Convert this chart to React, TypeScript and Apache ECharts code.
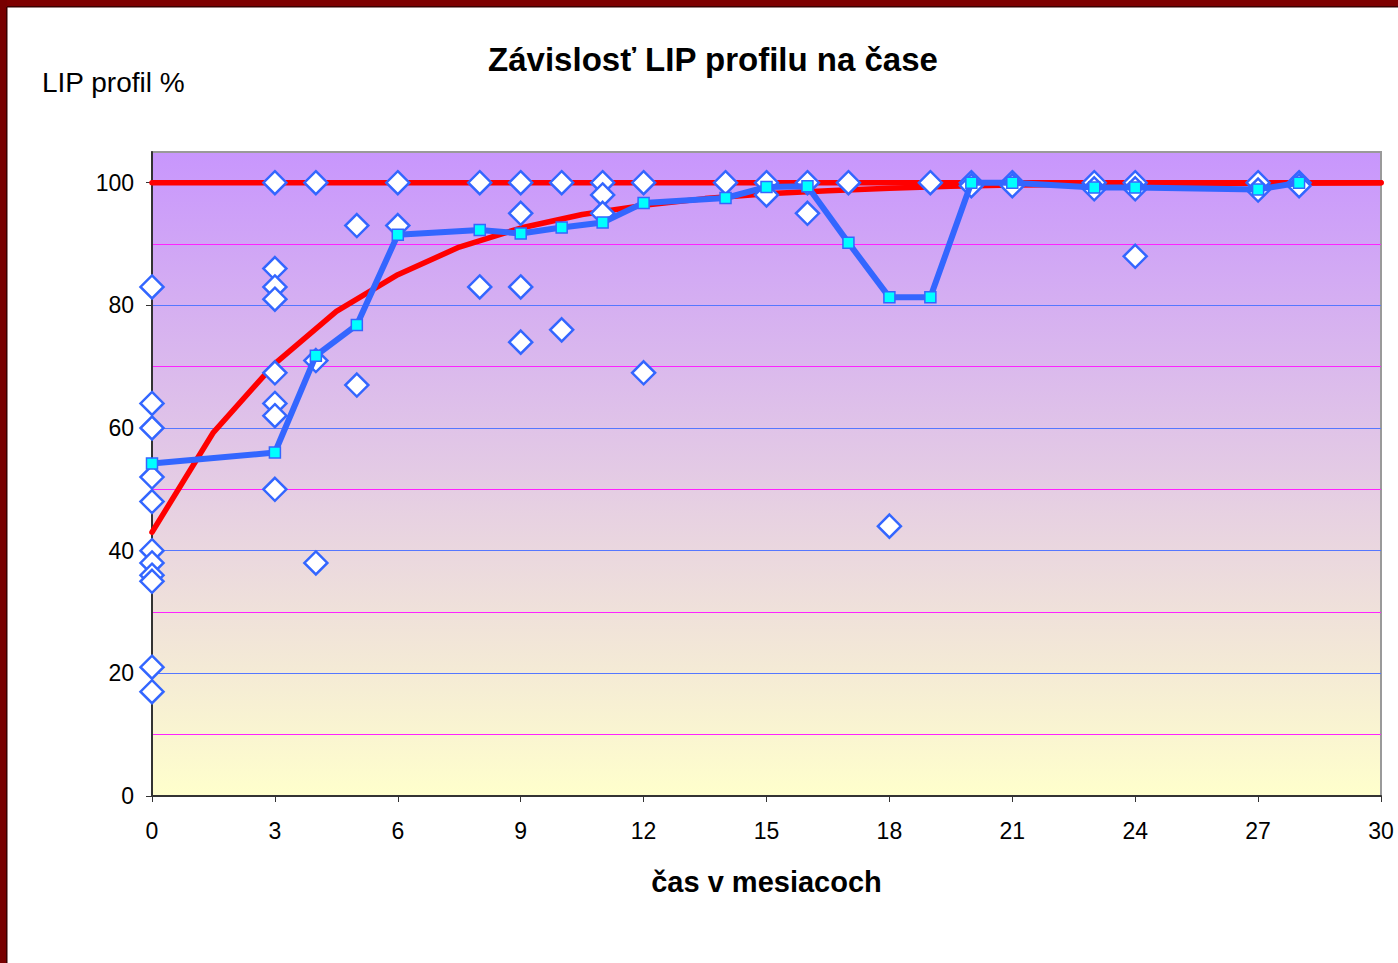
import React, { useEffect, useRef } from "react";
import * as echarts from "echarts";

const TITLE = "Závislosť LIP profilu na čase";
const Y_NAME = "LIP profil %";
const X_NAME = "čas v mesiacoch";

const X_TICKS = [0, 3, 6, 9, 12, 15, 18, 21, 24, 27, 30];
const Y_TICKS = [0, 20, 40, 60, 80, 100];

// individual measurements (diamonds)
const DOT_MONTHS = [0, 3, 4, 5, 6, 8, 9, 10, 11, 12, 14, 15, 16, 17, 18, 19, 20, 21, 23, 24, 27, 28];
const DOT_VALUES: number[][] = [
  [83, 64, 60, 52, 48, 40, 38, 36, 35, 21, 17],
  [100, 86, 83, 81, 69, 64, 62, 50],
  [100, 71, 38],
  [93, 67],
  [100, 93],
  [100, 83],
  [100, 95, 83, 74],
  [100, 76],
  [100, 98, 95],
  [100, 69],
  [100],
  [100, 98],
  [100, 95],
  [100],
  [44],
  [100],
  [100, 99.5],
  [100, 99.5],
  [100, 99],
  [100, 99, 88],
  [100, 98.8],
  [100, 99.5],
];

// mean values (blue line, cyan squares)
const MEAN_MONTHS = [0, 3, 4, 5, 6, 8, 9, 10, 11, 12, 14, 15, 16, 17, 18, 19, 20, 21, 23, 24, 27, 28];
const MEAN_VALUES = [54.2, 56, 71.8, 76.8, 91.5, 92.3, 91.7, 92.7, 93.5, 96.7, 97.5, 99.3, 99.4, 90.2, 81.3, 81.3, 100, 100, 99.2, 99.2, 98.9, 100];

// fitted curve (red)
const FIT_X = [0, 1.5, 3, 4.5, 6, 7.5, 9, 10.5, 12, 13.5, 15, 16.5, 18, 19.5, 21, 22.5, 24, 25.5, 27, 28.5, 30];
const FIT_Y = [43, 59.3, 70.5, 79, 85, 89.5, 92.6, 94.8, 96.3, 97.4, 98.2, 98.7, 99.1, 99.4, 99.6, 99.7, 99.8, 99.85, 99.9, 99.95, 100];

// reference level 100 %
const REF_X = [0, 30];
const REF_Y = [100, 100];

const FONT = "Liberation Sans, Arial, Helvetica, sans-serif";

export default function App() {
  const ref = useRef<HTMLDivElement>(null);

  useEffect(() => {
    if (!ref.current) return;
    const chart = echarts.init(ref.current, undefined, { renderer: "svg" });

    const dots: number[][] = [];
    DOT_MONTHS.forEach((m, i) => {
      DOT_VALUES[i].forEach((v) => dots.push([m, v]));
    });
    const means = MEAN_MONTHS.map((m, i) => [m, MEAN_VALUES[i]]);
    const fit = FIT_X.map((x, i) => [x, FIT_Y[i]]);
    const refLine = REF_X.map((x, i) => [x, REF_Y[i]]);

    const option: any = {
      animation: false,
      backgroundColor: "#ffffff",
      textStyle: { fontFamily: FONT },
      grid: {
        left: 152,
        top: 152,
        width: 1229,
        height: 644,
        show: true,
        borderColor: "#9a9a9a",
        borderWidth: 2,
        backgroundColor: {
          type: "linear",
          x: 0,
          y: 0,
          x2: 0,
          y2: 1,
          colorStops: [
            { offset: 0, color: "#C896FD" },
            { offset: 1, color: "#FFFFCC" },
          ],
        },
      },
      xAxis: {
        type: "value",
        min: 0,
        max: 30,
        interval: 3,
        name: X_NAME,
        nameLocation: "middle",
        nameGap: 71,
        nameTextStyle: { fontSize: 29, fontWeight: "bold", color: "#000", fontFamily: FONT },
        axisLine: { show: true, onZero: false, lineStyle: { color: "#333", width: 2 } },
        axisTick: { show: true, length: 6, lineStyle: { color: "#333", width: 1 } },
        axisLabel: {
          fontSize: 23,
          color: "#000",
          margin: 23,
          fontFamily: FONT,
          customValues: X_TICKS,
        },
        splitLine: { show: false },
      },
      yAxis: [
        {
          type: "value",
          min: 0,
          max: 105,
          interval: 10,
          axisLine: { show: true, onZero: false, lineStyle: { color: "#333", width: 2 } },
          axisTick: { show: false },
          axisLabel: {
            fontSize: 23,
            color: "#000",
            margin: 18,
            fontFamily: FONT,
            formatter: (v: number) => (Y_TICKS.indexOf(v) >= 0 ? String(v) : ""),
          },
          splitLine: {
            show: true,
            showMinLine: false,
            showMaxLine: false,
            lineStyle: { color: ["#FF22FF", "#5577FF"], width: 1 },
          },
        },
        {
          type: "value",
          position: "left",
          min: 0,
          max: 105,
          interval: 20,
          axisLine: { show: false },
          axisTick: { show: true, length: 6, lineStyle: { color: "#333", width: 1 }, customValues: Y_TICKS },
          axisLabel: { show: false },
          splitLine: { show: false },
        },
      ],
      graphic: [
        { type: "rect", shape: { x: 0, y: 0, width: 1398, height: 7 }, style: { fill: "#7E0000" }, z: 100 },
        { type: "rect", shape: { x: 0, y: 0, width: 7, height: 963 }, style: { fill: "#780000" }, z: 100 },
        { type: "rect", shape: { x: 7, y: 6, width: 1391, height: 1.5 }, style: { fill: "#3a0000" }, z: 100 },
        { type: "rect", shape: { x: 6, y: 7, width: 1.5, height: 956 }, style: { fill: "#3a0000" }, z: 100 },
        {
          type: "text",
          x: 713,
          y: 59,
          style: {
            text: TITLE,
            fontSize: 33,
            fontWeight: "bold",
            fontFamily: FONT,
            fill: "#000",
            align: "center",
            verticalAlign: "middle",
          },
        },
        {
          type: "text",
          x: 42,
          y: 82,
          style: {
            text: Y_NAME,
            fontSize: 28,
            fontFamily: FONT,
            fill: "#000",
            align: "left",
            verticalAlign: "middle",
          },
        },
      ],
      series: [
        {
          type: "line",
          name: "fit",
          data: fit,
          showSymbol: false,
          symbol: "none",
          lineStyle: { color: "#FF0000", width: 5.5, cap: "round", join: "round" },
          z: 2,
        },
        {
          type: "line",
          name: "100",
          data: refLine,
          showSymbol: false,
          symbol: "none",
          lineStyle: { color: "#FF0000", width: 5.5, cap: "round" },
          z: 2,
        },
        {
          type: "scatter",
          name: "dots",
          data: dots,
          symbol: "diamond",
          symbolSize: 23,
          itemStyle: { color: "#FFFFFF", borderColor: "#3366FF", borderWidth: 2.5, opacity: 1 },
          z: 3,
        },
        {
          type: "line",
          name: "mean",
          data: means,
          symbol: "rect",
          symbolSize: 11,
          showAllSymbol: true,
          lineStyle: { color: "#3366FF", width: 6, join: "round" },
          itemStyle: { color: "#00FFFF", borderColor: "#3366FF", borderWidth: 1.5 },
          z: 4,
        },
      ],
    };

    chart.setOption(option);
    return () => chart.dispose();
  }, []);

  return (
    <div
      ref={ref}
      style={{ position: "absolute", left: 0, top: 0, width: 1398, height: 963 }}
    />
  );
}
